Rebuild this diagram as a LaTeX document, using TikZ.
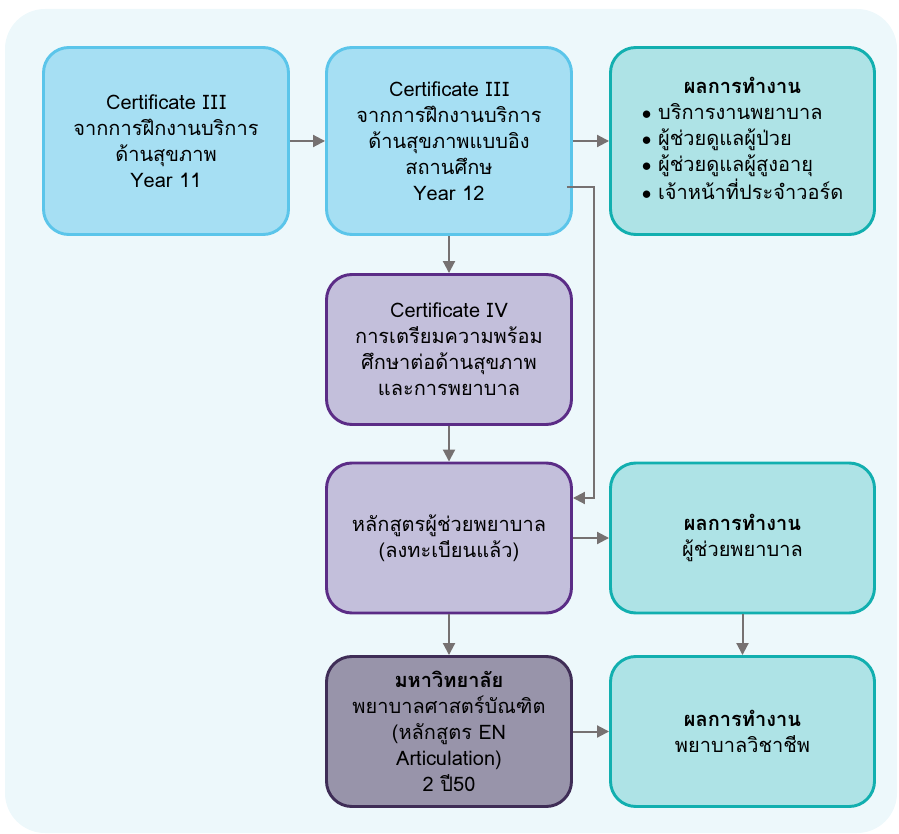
\documentclass[tikz,border=0pt]{standalone}
\usepackage{fontspec}
\setmainfont{Loma}[Script=Thai]
\usetikzlibrary{arrows.meta,calc}

\definecolor{bgpanel}{HTML}{EDF8FB}
\definecolor{blfill}{HTML}{A6DFF3}
\definecolor{bldraw}{HTML}{5BC5EA}
\definecolor{tlfill}{HTML}{AEE3E6}
\definecolor{tldraw}{HTML}{12AFAF}
\definecolor{ppfill}{HTML}{C3BFDB}
\definecolor{ppdraw}{HTML}{5B2C86}
\definecolor{dkfill}{HTML}{9894AA}
\definecolor{dkdraw}{HTML}{3F2D56}
\definecolor{flowgray}{HTML}{767171}

\newcommand{\romanIII}{I\kern1.5pt I\kern1.5pt I}
\newcommand{\romanIV}{I\kern1pt V}
\newcommand{\bulitem}{$\bullet$\hspace{5pt}}

\begin{document}
\begin{tikzpicture}[x=0.75pt,y=-0.75pt,
  box/.style={draw, rounded corners=19pt, line width=2.2pt, align=center,
    minimum width=245*0.75pt, inner sep=0pt},
  tallbox/.style={box, minimum height=187*0.75pt},
  midbox/.style={box, minimum height=150*0.75pt},
  blbox/.style={fill=blfill, draw=bldraw},
  tlbox/.style={fill=tlfill, draw=tldraw, minimum width=264*0.75pt},
  ppbox/.style={fill=ppfill, draw=ppdraw},
  dkbox/.style={fill=dkfill, draw=dkdraw},
  flow/.style={draw=flowgray, line width=1.5pt, -{Triangle[length=9pt,width=9pt]}}]
\fontsize{15}{19.5}\selectfont

\useasboundingbox (0,0) rectangle (899,834);
\fill[bgpanel, rounded corners=30pt] (5,9) rectangle (897,833);

\coordinate (r1) at (166,141);
\coordinate (r2) at (449,141);
\coordinate (r3) at (742.5,141);
\coordinate (r4) at (449,349.5);
\coordinate (r5) at (449,538);
\coordinate (r6) at (742.5,538);
\coordinate (r7) at (449,731.5);
\coordinate (r8) at (742.5,731.5);

\node[tallbox, blbox] (cert3a) at (r1)
  {Certificate \romanIII\\จากการฝึกงานบริการ\\ด้านสุขภาพ\\Year 11};
\node[tallbox, blbox] (cert3b) at (r2)
  {Certificate \romanIII\\จากการฝึกงานบริการ\\ด้านสุขภาพแบบอิง\\สถานศึกษ\\Year 12};
\node[tallbox, tlbox] (job1) at (r3)
  {\begin{tabular}{@{}l@{}}
   \multicolumn{1}{c}{\bfseries ผลการทำงาน}\\
   \bulitem บริการงานพยาบาล\\
   \bulitem ผู้ช่วยดูแลผู้ป่วย\\
   \bulitem ผู้ช่วยดูแลผู้สูงอายุ\\
   \bulitem เจ้าหน้าที่ประจำวอร์ด
   \end{tabular}};
\node[midbox, ppbox] (cert4) at (r4)
  {Certificate \romanIV\\การเตรียมความพร้อม\\ศึกษาต่อด้านสุขภาพ\\และการพยาบาล};
\node[midbox, ppbox] (aide) at (r5)
  {หลักสูตรผู้ช่วยพยาบาล\\(ลงทะเบียนแล้ว)};
\node[midbox, tlbox] (job2) at (r6)
  {\textbf{ผลการทำงาน}\\ผู้ช่วยพยาบาล};
\node[midbox, dkbox] (uni) at (r7)
  {\textbf{มหาวิทยาลัย}\\พยาบาลศาสตร์บัณฑิต\\(หลักสูตร EN\\Articulation)\\2 ปี50};
\node[midbox, tlbox] (job3) at (r8)
  {\textbf{ผลการทำงาน}\\พยาบาลวิชาชีพ};

\draw[flow] (cert3a) -- (cert3b);
\draw[flow] (cert3b) -- (job1);
\draw[flow] (cert3b) -- (cert4);
\draw[flow] ($(cert3b.east)+(-6,46)$) -- ++(27,0) |- ($(aide.east)+(0,-40)$);
\draw[flow] (cert4) -- (aide);
\draw[flow] (aide) -- (job2);
\draw[flow] (aide) -- (uni);
\draw[flow] (job2) -- (job3);
\draw[flow] (uni) -- (job3);
\end{tikzpicture}
\end{document}
